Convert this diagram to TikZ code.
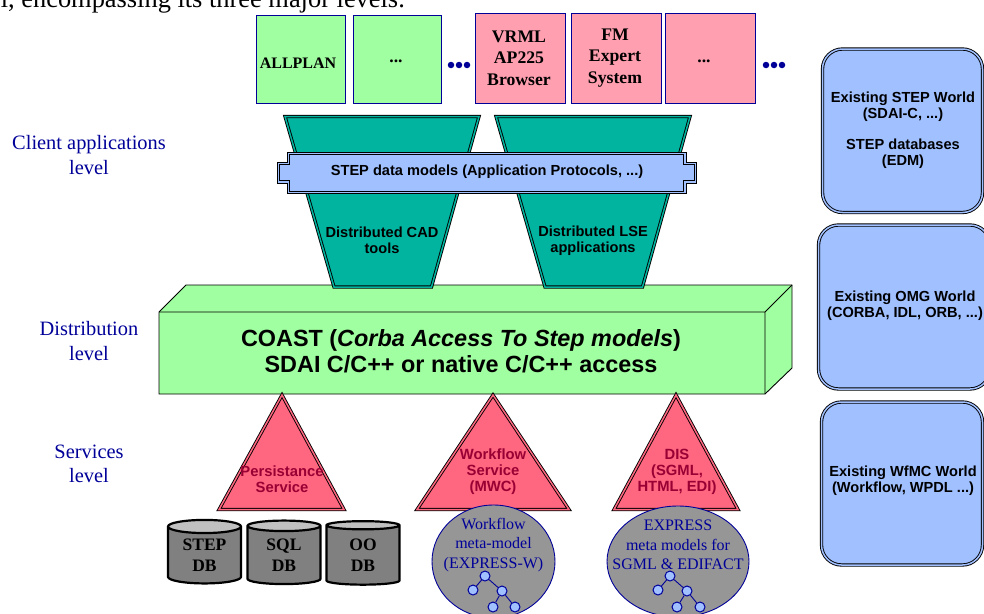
\documentclass[tikz,border=0pt]{standalone}
\usepackage{fontspec}
\setmainfont{Liberation Serif}
\setsansfont{Liberation Sans}
\usetikzlibrary{shapes.geometric}
\definecolor{appgreen}{HTML}{A0FFA0}
\definecolor{apppink}{HTML}{FF9FB0}
\definecolor{appteal}{HTML}{00B4A0}
\definecolor{appblue}{HTML}{A0C0FF}
\definecolor{trired}{HTML}{FF6680}
\definecolor{tritext}{HTML}{990033}
\definecolor{navy}{HTML}{000099}
\definecolor{dbgray}{HTML}{808080}
\definecolor{dbtop}{HTML}{C0C0C0}
\definecolor{ovalgray}{HTML}{969696}
\tikzset{
  appbox/.style={draw=navy,line width=1pt,fill=#1},
  twin/.style={draw=black,line width=.9pt,double=#1,double distance=1.5pt,fill=#1,line join=miter},
  apptext/.style={font=\fontsize{17.7}{21.5}\selectfont\bfseries,align=center},
  sanstext/.style={font=\fontsize{14.6}{16}\sffamily\bfseries\selectfont,align=center},
  tritxt/.style={font=\fontsize{14.8}{16}\sffamily\bfseries\selectfont,align=center,text=tritext},
  leveltext/.style={font=\fontsize{20.4}{24.5}\selectfont,align=center,text=navy},
  ovaltext/.style={font=\fontsize{16}{19.5}\selectfont,align=center,text=navy},
  dbnode/.style={shape=cylinder,shape border rotate=90,aspect=.3,draw=black,line width=2.2pt,
    cylinder uses custom fill,cylinder body fill=dbgray,cylinder end fill=dbtop,
    minimum width=73pt,minimum height=63.5pt,inner sep=0pt,
    font=\fontsize{17.5}{21}\selectfont\bfseries,align=center},
  treenode/.style={draw=navy,shape=circle,fill=appblue,line width=1pt,inner sep=0pt,minimum size=10pt},
  dotnode/.style={shape=circle,fill=navy,inner sep=0pt,minimum size=6.5pt},
  every node/.style={inner sep=0pt}
}
\begin{document}
\begin{tikzpicture}[x=1pt,y=-1pt]
  \useasboundingbox (0,0) rectangle (984,613);
  \clip (0,0) rectangle (984,613);
  \node[anchor=base east,font=\fontsize{26.4}{26.4}\selectfont] (intro) at (405,7) {l, encompassing its three major levels.};

  \draw[appbox=appgreen] (256,15) rectangle (345,103);
  \draw[appbox=appgreen] (353,15) rectangle (441,103);
  \draw[appbox=apppink] (475,13) rectangle (565,103);
  \draw[appbox=apppink] (571,13) rectangle (661,103);
  \draw[appbox=apppink] (665,13) rectangle (755,103);
  \node[apptext,font=\fontsize{16}{21}\selectfont\bfseries] (allplan) at (298,63) {ALLPLAN};
  \node[apptext] (more1) at (396,61) {...};
  \node[apptext] (vrml) at (519,58) {VRML\\AP225\\Browser};
  \node[apptext] (fm) at (615,58) {FM\\Expert\\System};
  \node[apptext] (more2) at (704,61) {...};
  \path (451,65) node[dotnode] (d1) {} (459,65) node[dotnode] (d2) {} (467,65) node[dotnode] (d3) {};
  \path (766,65) node[dotnode] (d4) {} (774,65) node[dotnode] (d5) {} (782,65) node[dotnode] (d6) {};

  % block
  \draw[line width=.9pt,fill=appgreen] (159,312) -- (186,285) -- (792,285) -- (792,368) -- (765,394) -- (159,394) -- cycle;
  \draw[line width=.9pt] (159,312) -- (765,312) -- (792,285) (765,312) -- (765,394);

  \draw[twin=appteal] (285,116.5) -- (479,116.5) -- (431.5,287) -- (334,287) -- cycle;
  \draw[twin=appteal] (496,116.5) -- (690,116.5) -- (642.5,287) -- (545,287) -- cycle;
  \draw[twin=appblue] (288.5,153.5) -- (685,153.5) -- (685,163.5) -- (695.5,163.5) -- (695.5,182) -- (685,182) -- (685,192.5)
    -- (288.5,192.5) -- (288.5,182) -- (278.5,182) -- (278.5,163.5) -- (288.5,163.5) -- cycle;
  \node[sanstext] (models) at (487,172) {STEP data models (Application Protocols, ...)};
  \node[sanstext] (cad) at (382,240) {Distributed CAD\\tools};
  \node[sanstext] (lse) at (593,241) {Distributed LSE\\applications};

  \node[font=\fontsize{23.4}{26}\sffamily\bfseries\selectfont,align=center] (coast) at (461,351)
    {COAST (\textit{Corba Access To Step models})\\SDAI C/C++ or native C/C++ access};

  \draw[twin=trired] (282,395) -- (344,509.5) -- (219,509.5) -- cycle;
  \draw[twin=trired] (493,395) -- (569,509.5) -- (417,509.5) -- cycle;
  \draw[twin=trired] (676,395) -- (738,509.5) -- (614,509.5) -- cycle;
  \node[tritxt] (persist) at (282,479) {Persistance\\Service};
  \node[tritxt] (wflow) at (493,471.5) {Workflow\\Service\\(MWC)};
  \node[tritxt] (dis) at (677,471.5) {DIS\\(SGML,\\HTML, EDI)};

  \node[dbnode] (stepdb) at (204.5,555.5) {STEP\\DB};
  \node[dbnode] (sqldb) at (284,555.5) {SQL\\DB};
  \node[dbnode] (oodb) at (363,555.5) {OO\\DB};

  \draw[draw=navy,line width=.9pt,fill=ovalgray] (493.5,561.5) ellipse (61.5 and 56.5);
  \draw[draw=navy,line width=.9pt,fill=ovalgray] (678,561.5) ellipse (71 and 55.5);
  \node[ovaltext] (wmodel) at (493.5,545) {Workflow\\meta-model\\(EXPRESS-W)};
  \node[ovaltext] (emodel) at (678,545) {EXPRESS\\meta models for\\SGML \& EDIFACT};

  \path (485,576) node[treenode] (a0) {} (473,590) node[treenode] (a1) {} (502,591) node[treenode] (a2) {}
  (493,607) node[treenode] (a3) {} (515,607) node[treenode] (a4) {};
  \draw[navy,line width=.9pt] (a1) -- (a0) -- (a2) -- (a3) (a2) -- (a4);
  \path (670,576) node[treenode] (b0) {} (658,590) node[treenode] (b1) {} (687,591) node[treenode] (b2) {}
  (677,607) node[treenode] (b3) {} (700,607) node[treenode] (b4) {};
  \draw[navy,line width=.9pt] (b1) -- (b0) -- (b2) -- (b3) (b2) -- (b4);

  \draw[twin=appblue,rounded corners=20pt] (822.5,49) rectangle (982.5,212.5);
  \draw[twin=appblue,rounded corners=20pt] (818.5,225) rectangle (990,389);
  \draw[twin=appblue,rounded corners=20pt] (821.5,402) rectangle (982.5,565);
  \node[sanstext] (world1) at (903,130) {Existing STEP World\\(SDAI-C, ...)\\[15pt]STEP databases\\(EDM)};
  \node[sanstext] (world2) at (905,306) {Existing OMG World\\(CORBA, IDL, ORB, ...)};
  \node[sanstext] (world3) at (903,481) {Existing WfMC World\\(Workflow, WPDL ...)};

  \node[leveltext] (client) at (89,155) {Client applications\\level};
  \node[leveltext] (distrib) at (89,341) {Distribution\\level};
  \node[leveltext] (services) at (89,464) {Services\\level};
\end{tikzpicture}
\end{document}
